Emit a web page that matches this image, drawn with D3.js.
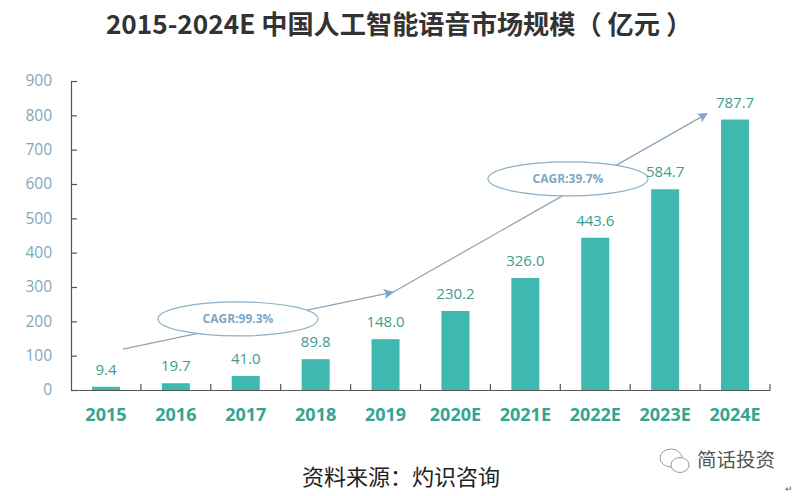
<!DOCTYPE html>
<html><head><meta charset="utf-8">
<script src="https://cdnjs.cloudflare.com/ajax/libs/d3/7.8.5/d3.min.js"></script>
<style>html,body{margin:0;padding:0;background:#fff}svg{display:block}</style>
</head><body>
<svg id="c" width="800" height="496"></svg>
<script>
const categories=["2015","2016","2017","2018","2019","2020E","2021E","2022E","2023E","2024E"];
const values=[9.4,19.7,41.0,89.8,148.0,230.2,326.0,443.6,584.7,787.7];
const yTicks=[0,100,200,300,400,500,600,700,800,900];
const titleText="2015-2024E 中国人工智能语音市场规模（ 亿元 ）";
const sourceText="资料来源：灼识咨询";
const watermarkText="简话投资";
// [category position, value] anchor points of the two growth arrows
const arrowStart1=[0.244,119],arrowEnd1=[4.106,285];
const arrowEnd2=[8.6,805];
const cagr=[{label:"CAGR:99.3%",cx:1.889,cy:207},{label:"CAGR:39.7%",cx:6.61,cy:615}];

const svg=d3.select("#c");
const x=d3.scaleBand().domain(categories).range([71,770]).paddingInner(0).paddingOuter(0);
const y=d3.scaleLinear().domain([0,900]).range([390,81]);
const cjk='"Noto Sans CJK SC","Noto Sans",sans-serif';
const latin='"Open Sans","Noto Sans CJK SC",sans-serif';

svg.append("defs").append("marker").attr("id","ah").attr("viewBox","0 0 10 10").attr("refX",9).attr("refY",5)
 .attr("markerWidth",13).attr("markerHeight",10).attr("markerUnits","userSpaceOnUse").attr("orient","auto")
 .append("path").attr("d","M0,0L10,5L0,10L2,5Z").attr("fill","#7fa6cc");

svg.append("text").attr("x",399).attr("y",34).attr("text-anchor","middle")
 .attr("font-family",cjk).attr("font-weight",700).attr("font-size",26.2).attr("fill","#333").text(titleText);

// bars
svg.append("g").selectAll("rect").data(values).join("rect")
 .attr("x",(d,i)=>x(categories[i])+x.bandwidth()/2-14).attr("width",28)
 .attr("y",d=>y(d)).attr("height",d=>y(0)-y(d)).attr("fill","#3fb8af");

// y axis, ticks inward
const ya=d3.axisLeft(y).tickValues(yTicks).tickSizeInner(-6).tickSizeOuter(0).tickPadding(19);
const gy=svg.append("g").attr("transform","translate(71,0)").call(ya);
gy.selectAll("path,line").attr("stroke","#555").attr("stroke-width",1.2);
gy.selectAll("text").attr("font-family",latin).attr("font-size",15.5).attr("fill","#7fa8bd");

// x axis
const xa=d3.axisBottom(x).tickSize(0).tickPadding(18);
const gx=svg.append("g").attr("transform","translate(0,390)").call(xa);
gx.select("path").attr("stroke","#555").attr("stroke-width",1.2);
gx.selectAll("text").attr("font-family",latin).attr("font-weight",700).attr("font-size",18).attr("fill","#35a593");
svg.append("g").selectAll("line").data(categories).join("line")
 .attr("x1",d=>x(d)+x.bandwidth()).attr("x2",d=>x(d)+x.bandwidth()).attr("y1",384).attr("y2",390)
 .attr("stroke","#555").attr("stroke-width",1.2);

// arrows
const pt=(c,v)=>[x.range()[0]+x.bandwidth()*(c+0.5),y(v)];
const line=d3.line();
svg.append("path").attr("d",line([pt(...arrowStart1),pt(...arrowEnd1)])).attr("fill","none")
 .attr("stroke","#8ba3b8").attr("stroke-width",1.2).attr("marker-end","url(#ah)");
svg.append("path").attr("d",line([pt(...arrowEnd1),pt(...arrowEnd2)])).attr("fill","none")
 .attr("stroke","#8ba3b8").attr("stroke-width",1.2).attr("marker-end","url(#ah)");

// ellipses
const g=svg.append("g").selectAll("g").data(cagr).join("g")
 .attr("transform",d=>{const p=pt(d.cx,d.cy);return `translate(${p[0]},${p[1]})`;});
g.append("ellipse").attr("rx",80).attr("ry",17).attr("fill","#fff").attr("stroke","#8fb0c4").attr("stroke-width",1.2);
g.append("text").attr("text-anchor","middle").attr("y",4).attr("font-family",latin).attr("font-weight",700)
 .attr("font-size",12).attr("fill","#7fa6c4").text(d=>d.label);

// value labels
svg.append("g").selectAll("text").data(values).join("text")
 .attr("x",(d,i)=>x(categories[i])+x.bandwidth()/2).attr("y",d=>y(d)-12)
 .attr("text-anchor","middle").attr("font-family",latin).attr("font-size",15).attr("fill","#3a9d8f")
 .text(d=>d.toFixed(1));

svg.append("text").attr("x",401).attr("y",485).attr("text-anchor","middle")
 .attr("font-family",'"Noto Sans CJK SC",serif').attr("font-size",22).attr("fill","#222").text(sourceText);

// watermark with chat-bubble icon
const wm=svg.append("g").attr("fill","none").attr("stroke","#999").attr("stroke-width",1);
wm.append("ellipse").attr("cx",671).attr("cy",458).attr("rx",11).attr("ry",9);
wm.append("ellipse").attr("cx",680).attr("cy",465).attr("rx",9).attr("ry",7.5).attr("fill","#fff");
svg.append("text").attr("x",697).attr("y",467).attr("font-family",cjk).attr("font-size",19.5).attr("fill","#555").text(watermarkText);
svg.append("text").attr("x",785).attr("y",492).attr("font-family",cjk).attr("font-size",9).attr("fill","#666").text("↵");
</script>
</body></html>
